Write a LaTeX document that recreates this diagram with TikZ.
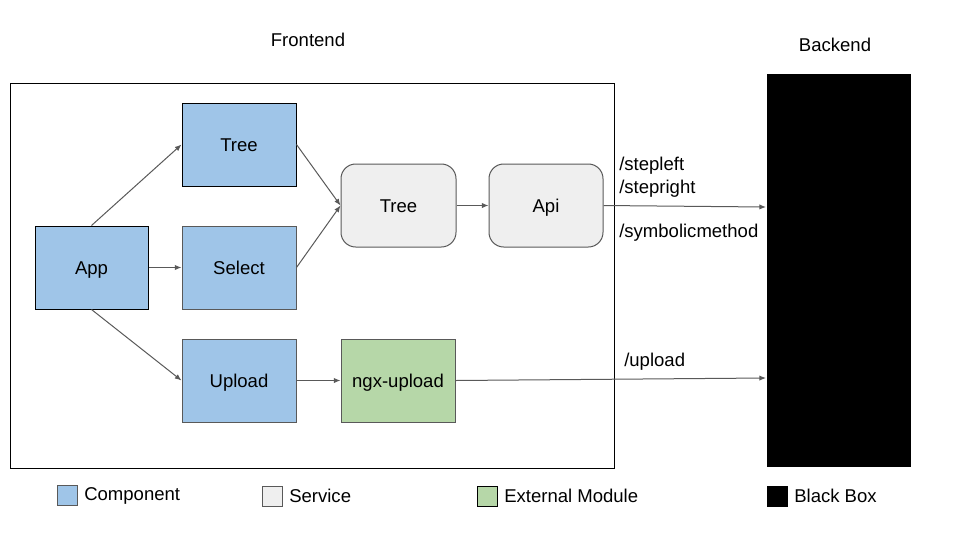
\documentclass[tikz,border=0pt]{standalone}
\usepackage{fontspec}
\setmainfont{Liberation Sans}
\usetikzlibrary{arrows.meta}
\definecolor{compblue}{HTML}{9FC5E8}
\definecolor{servgray}{HTML}{EFEFEF}
\definecolor{extgreen}{HTML}{B6D7A8}
\definecolor{edgegray}{HTML}{595959}
\tikzset{
  lbl/.style={font=\fontsize{13.9pt}{16pt}\selectfont, inner sep=0pt, text height=9.95pt, text depth=0pt},
  comp/.style={draw=black, fill=compblue, line width=0.75pt, lbl},
  compg/.style={draw=edgegray, fill=compblue, line width=0.75pt, lbl},
  serv/.style={draw=edgegray, fill=servgray, rounded corners=11pt, line width=0.75pt, lbl},
  ext/.style={draw=edgegray, fill=extgreen, line width=0.75pt, lbl},
  conn/.style={draw=edgegray, line width=0.75pt, -{Latex[length=5pt,width=4pt]}},
  legsq/.style={line width=0.75pt, minimum size=15pt, inner sep=0pt}
}
\begin{document}
\begin{tikzpicture}[x=0.75pt,y=-0.75pt]
\useasboundingbox (0,0) rectangle (960,540);
% frames
\node[draw=black, line width=0.75pt, minimum width=604*0.75pt, minimum height=385*0.75pt, inner sep=0pt] (front) at (312,275.5) {};
\node[lbl] (frontlbl) at (308,40) {Frontend};
\node[fill=black, minimum width=144*0.75pt, minimum height=393*0.75pt, inner sep=0pt] (back) at (839,270.5) {};
\node[lbl] (backlbl) at (835,45) {Backend};
% nodes
\node[comp, minimum width=113*0.75pt, minimum height=83*0.75pt] (app) at (91.5,267.5) {App};
\node[comp, minimum width=114*0.75pt, minimum height=83*0.75pt] (tree) at (239,144.5) {Tree};
\node[compg, minimum width=114*0.75pt, minimum height=83*0.75pt] (select) at (239,267.5) {Select};
\node[compg, minimum width=114*0.75pt, minimum height=83*0.75pt] (upload) at (239,380.5) {Upload};
\node[ext, minimum width=114*0.75pt, minimum height=83*0.75pt] (ngx) at (398,380.5) {ngx-upload};
\node[serv, minimum width=115*0.75pt, minimum height=83*0.75pt] (treeS) at (398.5,205.5) {Tree};
\node[serv, minimum width=114*0.75pt, minimum height=83*0.75pt] (api) at (546,205.5) {Api};
\coordinate (bin1) at (766,207);
\coordinate (bin2) at (766,378);
% connectors
\draw[conn] (app.north) -- (tree.west);
\draw[conn] (app.east) -- (select.west);
\draw[conn] (app.south) -- (upload.west);
\draw[conn] (tree.east) -- (treeS.west);
\draw[conn] (select.east) -- (treeS.west);
\draw[conn] (treeS.east) -- (api.west);
\draw[conn] (upload.east) -- (ngx.west);
\draw[conn] (api.east) -- (bin1);
\draw[conn] (ngx.east) -- (bin2);
% labels
\node[lbl, anchor=west] (l1) at (619,164) {/stepleft};
\node[lbl, anchor=west] (l2) at (619,187) {/stepright};
\node[lbl, anchor=west] (l3) at (619,231) {/symbolicmethod};
\node[lbl, anchor=west] (l4) at (624,360) {/upload};
% legend
\node[legsq, draw=edgegray, fill=compblue] (lg1) at (67,495) {};
\node[lbl, anchor=west] (lt1) at (84,494) {Component};
\node[legsq, draw=edgegray, fill=servgray] (lg2) at (272,496) {};
\node[lbl, anchor=west] (lt2) at (289,496) {Service};
\node[legsq, draw=black, fill=extgreen] (lg3) at (487,496) {};
\node[lbl, anchor=west] (lt3) at (504,496) {External Module};
\node[legsq, draw=black, fill=black] (lg4) at (777,496) {};
\node[lbl, anchor=west] (lt4) at (794,496) {Black Box};
\end{tikzpicture}
\end{document}
